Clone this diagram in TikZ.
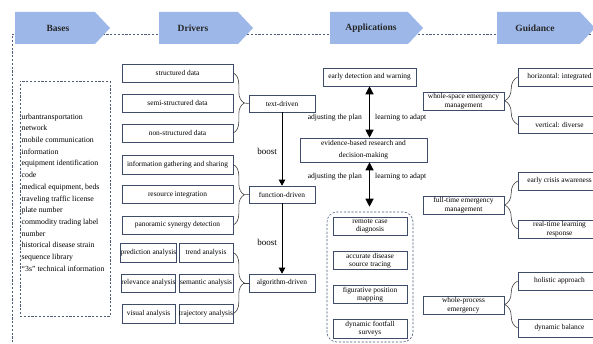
\documentclass[tikz,border=0pt]{standalone}
\usepackage{fontspec}
\setmainfont{Liberation Serif}
\usetikzlibrary{arrows.meta,decorations.pathreplacing,calc}
\definecolor{bannerblue}{HTML}{9DB8E8}
\definecolor{boxline}{HTML}{3E4C6A}
\definecolor{dashline}{HTML}{4F5D7A}
\begin{document}
\begin{tikzpicture}[x=1pt,y=-1pt,
  box/.style={draw=boxline, line width=0.6pt, fill=white, inner sep=0pt, align=center,
    font=\fontsize{7.4}{8.5}\selectfont, text=black, minimum height=18pt},
  banner/.style={fill=bannerblue},
  bannertext/.style={font=\fontsize{9.5}{10}\selectfont\bfseries, text=black!85},
  frame/.style={draw=dashline, line width=0.6pt, dash pattern=on 2.2pt off 1.6pt},
  lbl/.style={font=\fontsize{7.6}{9}\selectfont, text=black, inner sep=0pt},
  boostlbl/.style={font=\fontsize{9}{10}\selectfont, text=black, inner sep=0pt},
  boostarrow/.style={-{Triangle[width=6.5pt,length=6pt]}, line width=0.7pt, black},
  dblarrow/.style={{Triangle[width=8pt,length=8pt]}-{Triangle[width=8pt,length=8pt]}, line width=1.2pt, black},
  bracel/.style={draw=black!75, line width=0.6pt, decorate, decoration={brace, amplitude=#1}},
]
\path[clip] (0,0) rectangle (593,344);
\fill[white] (0,0) rectangle (593,344);

% outer dashed frame
\draw[frame] (12,350) -- (12,34) -- (600,34);

% banners
\fill[banner] (15,12) -- (95,12) -- (110,28) -- (95,44) -- (15,44) -- cycle;
\fill[banner] (159,12) -- (238,12) -- (253,28) -- (238,44) -- (159,44) -- cycle;
\fill[banner] (330,12) -- (408,12) -- (423,28) -- (408,44) -- (330,44) -- cycle;
\fill[banner] (497,12) -- (580,12) -- (595,28) -- (580,44) -- (497,44) -- cycle;
\node[bannertext] (hb) at (58,28) {Bases};
\node[bannertext] (hd) at (193,28) {Drivers};
\node[bannertext] (ha) at (371,28) {Applications};
\node[bannertext] (hg) at (535,28) {Guidance};

% Bases
\node[frame, minimum width=90pt, minimum height=235pt, inner sep=0pt] (basesbox) at (65,198.5) {};
\node[anchor=north west, align=left, inner sep=0pt, font=\fontsize{7.8}{11.7}\selectfont] (basestext) at (21.5,113.5)
 {urbantransportation\\network\\mobile communication\\information\\equipment identification\\code\\medical equipment, beds\\traveling traffic license\\plate number\\commodity trading label\\number\\historical disease strain\\sequence library\\“3s” technical information};

% Drivers
\node[box, minimum width=111pt] (sd) at (177.5,73) {structured data};
\node[box, minimum width=111pt] (ssd) at (177.5,103) {semi-structured data};
\node[box, minimum width=111pt] (nsd) at (177.5,133) {non-structured data};
\node[box, minimum width=111pt, minimum height=19pt] (ig) at (177.5,164.5) {information gathering and sharing};
\node[box, minimum width=111pt] (ri) at (177.5,194.5) {resource integration};
\node[box, minimum width=111pt] (ps) at (177.5,225) {panoramic synergy detection};
\node[box, minimum width=53pt, minimum height=19pt] (pa) at (148.5,252.5) {prediction analysis};
\node[box, minimum width=54pt, minimum height=19pt] (ta) at (206,252.5) {trend analysis};
\node[box, minimum width=53pt] (ra) at (148.5,283) {relevance analysis};
\node[box, minimum width=54pt] (sa) at (206,283) {semantic analysis};
\node[box, minimum width=53pt, minimum height=19pt] (va) at (148.5,313.5) {visual analysis};
\node[box, minimum width=54pt, minimum height=19pt] (tra) at (206,313.5) {trajectory analysis};

\node[box, minimum width=66pt, minimum height=17pt] (td) at (282,103.5) {text-driven};
\node[box, minimum width=66pt, minimum height=17pt] (fd) at (282,194.5) {function-driven};
\node[box, minimum width=66pt, minimum height=18pt] (ad) at (282,283) {algorithm-driven};

% braces drivers
\draw[bracel=11pt] (sd.east) -- (nsd.east);
\coordinate (tb1) at ($(sd.east)!0.5!(nsd.east)+(11,0)$);
\draw[draw=black!75, line width=0.6pt] (tb1) -- (td.west);
\draw[bracel=11pt] (ig.east) -- (ps.east);
\coordinate (tb2) at ($(ig.east)!0.5!(ps.east)+(11,0)$);
\draw[draw=black!75, line width=0.6pt] (tb2) -- (fd.west);
\draw[bracel=11pt] (ta.east) -- (tra.east);
\coordinate (tb3) at ($(ta.east)!0.5!(tra.east)+(11,0)$);
\draw[draw=black!75, line width=0.6pt] (tb3) -- (ad.west);

% boost arrows
\draw[boostarrow] (td.south) -- (fd.north);
\draw[boostarrow] (fd.south) -- (ad.north);
\node[boostlbl] (b1) at (267,151) {boost};
\node[boostlbl] (b2) at (267,242) {boost};

% Applications
\node[box, minimum width=93pt] (ed) at (369.5,77) {early detection and warning};
\node[box, minimum width=127pt, minimum height=24pt, font=\fontsize{7.4}{12}\selectfont] (ev) at (363.5,150) {evidence-based research and\\decision-making};
\node[frame, rounded corners=10pt, minimum width=86pt, minimum height=130pt, inner sep=0pt] (grp) at (370,277) {};
\node[box, minimum width=74pt] (rc) at (370,226) {remote case\\diagnosis};
\node[box, minimum width=74pt] (adt) at (370,260.5) {accurate disease\\source tracing};
\node[box, minimum width=74pt] (fpm) at (370,294.5) {figurative position\\mapping};
\node[box, minimum width=74pt, minimum height=19pt] (dfs) at (370,328.5) {dynamic footfall\\surveys};

\draw[dblarrow] (ed.south) -- (ed.south |- ev.north);
\draw[dblarrow, shorten >=5pt] (ed.south |- ev.south) -- (ed.south |- grp.north);
\node[lbl, anchor=east] (adj1) at (362,118) {adjusting the plan};
\node[lbl, anchor=west] (lta1) at (375,118) {learning to adapt};
\node[lbl, anchor=east] (adj2) at (362,177) {adjusting the plan};
\node[lbl, anchor=west] (lta2) at (375,177) {learning to adapt};

% Guidance
\node[box, minimum width=81pt] (ws) at (463.5,101) {whole-space emergency\\management};
\node[box, minimum width=81pt] (ft) at (463.5,205) {full-time emergency\\management};
\node[box, minimum width=81pt] (wp) at (463.5,305) {whole-process\\emergency};
\node[box, minimum width=83pt] (hi) at (559.5,77) {horizontal: integrated};
\node[box, minimum width=83pt, minimum height=17pt] (vd) at (559.5,124.5) {vertical: diverse};
\node[box, minimum width=83pt] (eca) at (559.5,181) {early crisis awareness};
\node[box, minimum width=83pt] (rtl) at (559.5,229) {real-time learning\\response};
\node[box, minimum width=83pt] (hoa) at (559.5,281) {holistic approach};
\node[box, minimum width=83pt] (dyb) at (559.5,328) {dynamic balance};

\draw[bracel=13pt] (vd.west) -- (hi.west);
\draw[bracel=13pt] (rtl.west) -- (eca.west);
\draw[bracel=13pt] (dyb.west) -- (hoa.west);
\end{tikzpicture}
\end{document}
